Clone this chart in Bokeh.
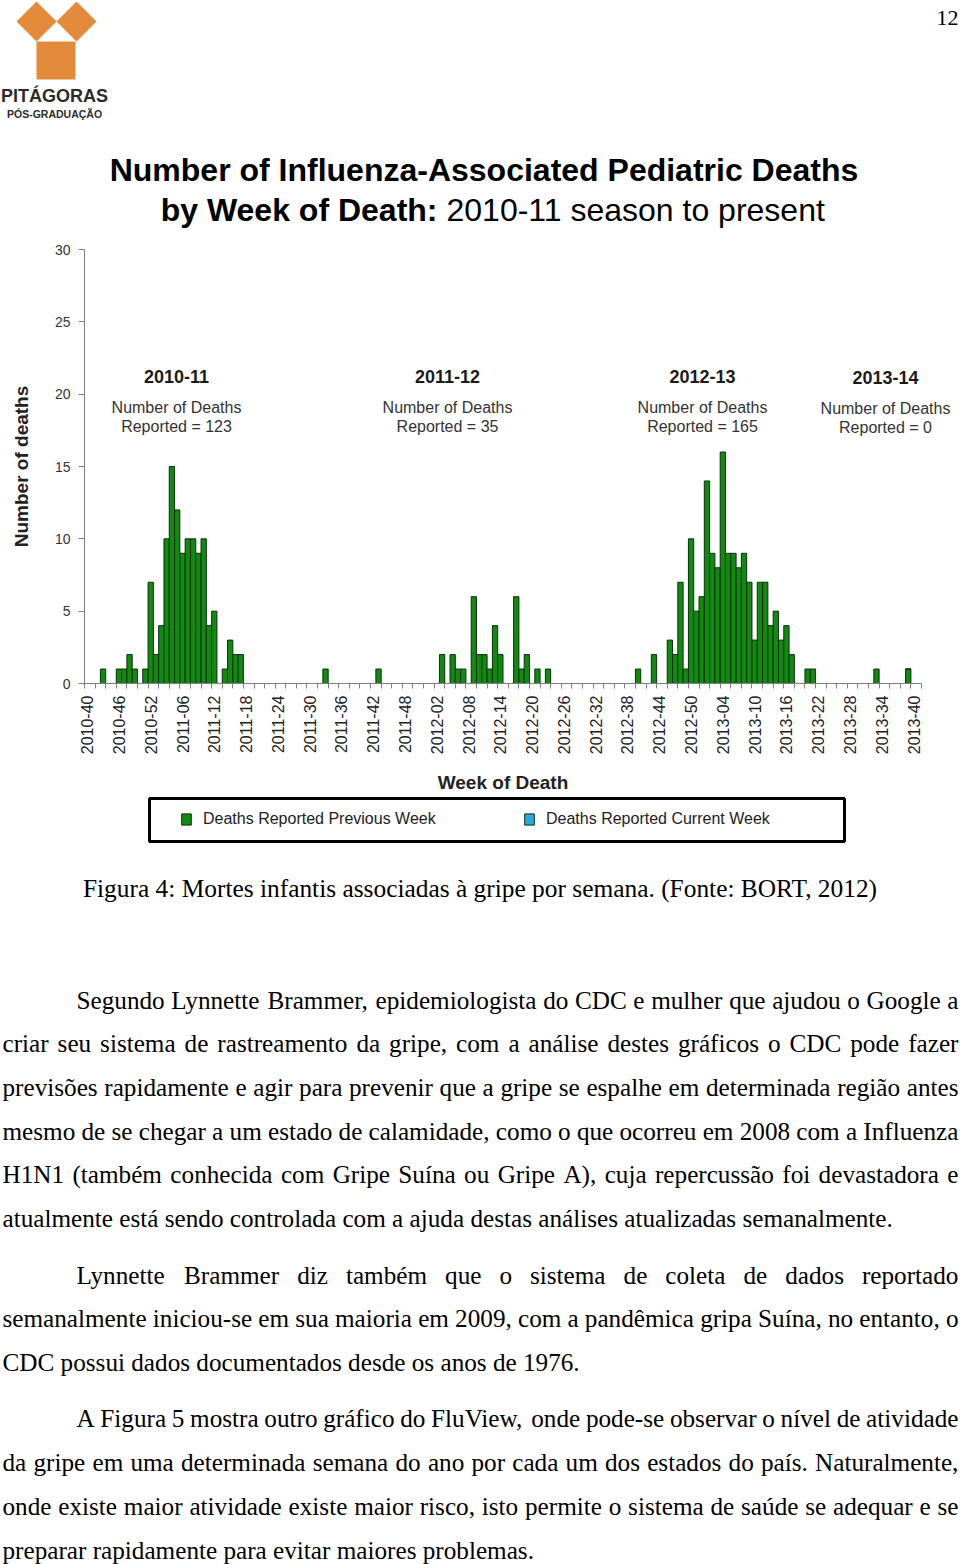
import unicodedata
from bokeh.plotting import figure
from bokeh.models import (Range1d, FixedTicker, Label, Legend, LegendItem,
                          PolyAnnotation, ColumnDataSource)
from bokeh.embed import file_html
from bokeh.resources import INLINE

# ------------------------------------------------------------------ data
# week-of-death categories on the x axis (2010-40 ... 2013-41)
weeks = []
for yr, w0, w1 in [(2010, 40, 52), (2011, 1, 52), (2012, 1, 52), (2013, 1, 41)]:
    for w in range(w0, w1 + 1):
        weeks.append(f"{yr}-{w:02d}")

tick_labels = ["2010-40", "2010-46", "2010-52", "2011-06", "2011-12", "2011-18",
               "2011-24", "2011-30", "2011-36", "2011-42", "2011-48", "2012-02",
               "2012-08", "2012-14", "2012-20", "2012-26", "2012-32", "2012-38",
               "2012-44", "2012-50", "2013-04", "2013-10", "2013-16", "2013-22",
               "2013-28", "2013-34", "2013-40"]

prev_weeks = ["2010-43", "2010-46", "2010-47", "2010-48", "2010-49", "2010-51",
              "2010-52", "2011-01", "2011-02", "2011-03", "2011-04", "2011-05",
              "2011-06", "2011-07", "2011-08", "2011-09", "2011-10", "2011-11",
              "2011-12", "2011-14", "2011-15", "2011-16", "2011-17", "2011-33",
              "2011-43", "2012-03", "2012-05", "2012-06", "2012-07", "2012-09",
              "2012-10", "2012-11", "2012-12", "2012-13", "2012-14", "2012-17",
              "2012-18", "2012-19", "2012-21", "2012-23", "2012-40", "2012-43",
              "2012-46", "2012-47", "2012-48", "2012-49", "2012-50", "2012-51",
              "2012-52", "2013-01", "2013-02", "2013-03", "2013-04", "2013-05",
              "2013-06", "2013-07", "2013-08", "2013-09", "2013-10", "2013-11",
              "2013-12", "2013-13", "2013-14", "2013-15", "2013-16", "2013-17",
              "2013-20", "2013-21", "2013-33", "2013-39"]
prev_deaths = [1, 1, 1, 2, 1, 1,
               7, 2, 4, 10, 15, 12,
               9, 10, 10, 9, 10, 4,
               5, 1, 3, 2, 2, 1,
               1, 2, 2, 1, 1, 6,
               2, 2, 1, 4, 2, 6,
               1, 2, 1, 1, 1, 2,
               3, 2, 7, 1, 10, 5,
               6, 14, 9, 8, 16, 9,
               9, 8, 9, 7, 3, 7,
               7, 4, 5, 3, 4, 2,
               1, 1, 1, 1]

# deaths reported in the current week (stacked on the previous ones): none
current_weeks = ["2013-39"]
current_deaths = [0]

seasons = ["2010-11", "2011-12", "2012-13", "2013-14"]
season_totals = [123, 35, 165, 0]

y_ticks = [0, 5, 10, 15, 20, 25, 30]

# ------------------------------------------------------------------ layout / styles
W, H = 960, 1564
AX_LEFT, AX_RIGHT = 84, 921        # page px of the category axis ends
AX_TOP, AX_BOTTOM = 249, 683       # page px of y = 30 and y = 0
n = len(weeks)
PXW = (AX_RIGHT - AX_LEFT) / n
PXU = (AX_BOTTOM - AX_TOP) / 30.0
x_start = -0.5 - AX_LEFT / PXW
x_end = -0.5 + (W - AX_LEFT) / PXW
y_end = AX_BOTTOM / PXU
y_start = -(H - AX_BOTTOM) / PXU

GREEN = "#128a12"
BAR_LINE = "#0c300c"
BLUE = "#2ba8e0"
ORANGE = "#e38a3b"
SANS = "Liberation Sans"
SERIF = "Liberation Serif"


def lab(px, py, text, size, font=SANS, style="normal", align="center",
        color="#1a1a1a", baseline="middle"):
    return Label(x=px, y=H - py, x_units="screen", y_units="screen",
                 text=text, text_font=font, text_font_size=f"{size}px",
                 text_font_style=style, text_align=align,
                 text_baseline=baseline, text_color=color)


p = figure(width=W, height=H, x_range=Range1d(x_start, x_end),
           y_range=Range1d(y_start, y_end), output_backend="svg",
           toolbar_location=None, title=None, min_border=0,
           min_border_left=0, min_border_right=0,
           min_border_top=0, min_border_bottom=0)
p.outline_line_color = None
p.xgrid.visible = False
p.ygrid.visible = False
p.background_fill_color = "white"
p.border_fill_color = "white"

src_prev = ColumnDataSource(dict(x=[weeks.index(w) for w in prev_weeks],
                                 top=prev_deaths))
cur_base = [prev_deaths[prev_weeks.index(w)] if w in prev_weeks else 0
            for w in current_weeks]
src_cur = ColumnDataSource(dict(x=[weeks.index(w) for w in current_weeks],
                                bottom=cur_base,
                                top=[b + c for b, c in zip(cur_base, current_deaths)]))
r_prev = p.vbar(x="x", top="top", width=1, source=src_prev,
                fill_color=GREEN, line_color=BAR_LINE, line_width=1)
r_cur = p.vbar(x="x", bottom="bottom", top="top", width=1, source=src_cur,
               fill_color=BLUE, line_color=BAR_LINE, line_width=1)

# x axis (drawn at y = 0)
xa = p.xaxis[0]
xa.fixed_location = 0
xa.bounds = (-0.5, n - 0.5)
major = [weeks.index(t) for t in tick_labels]
minor = [i - 0.5 for i in range(0, n + 1, 2)]
xa.ticker = FixedTicker(ticks=major, minor_ticks=minor)
xa.major_label_overrides = {weeks.index(t): t for t in tick_labels}
xa.major_label_orientation = 3.141592653589793 / 2
xa.major_tick_line_color = None
xa.major_tick_out = 0
xa.major_tick_in = 0
xa.minor_tick_out = 5
xa.minor_tick_in = 0
xa.minor_tick_line_color = "#808080"
xa.axis_line_color = "#808080"
xa.major_label_standoff = 7
xa.major_label_text_font = SANS
xa.major_label_text_font_size = "16px"
xa.major_label_text_color = "#222222"
xa.axis_label = "Week of Death"
xa.axis_label_text_font = SANS
xa.axis_label_text_font_size = "19px"
xa.axis_label_text_font_style = "bold"
xa.axis_label_text_color = "#222222"
xa.axis_label_standoff = 15

# y axis (drawn at the left edge of the first week)
ya = p.yaxis[0]
ya.fixed_location = -0.5
ya.bounds = (0, 30)
ya.ticker = FixedTicker(ticks=y_ticks)
ya.minor_tick_line_color = None
ya.major_tick_out = 6
ya.major_tick_in = 0
ya.major_tick_line_color = "#808080"
ya.axis_line_color = "#808080"
ya.major_label_standoff = 8
ya.major_label_text_font = SANS
ya.major_label_text_font_size = "14px"
ya.major_label_text_color = "#333333"
ya.axis_label = "Number of deaths"
ya.axis_label_text_font = SANS
ya.axis_label_text_font_size = "19px"
ya.axis_label_text_font_style = "bold"
ya.axis_label_text_color = "#222222"
ya.axis_label_standoff = 20

# legend with framed box
box_l, box_r, box_t, box_b = 149, 844, 798, 841
p.add_layout(PolyAnnotation(xs=[box_l, box_r, box_r, box_l],
                            ys=[H - box_t, H - box_t, H - box_b, H - box_b],
                            xs_units="screen", ys_units="screen",
                            fill_alpha=0, line_color="black", line_alpha=1,
                            line_width=3))
legend = Legend(items=[LegendItem(label="Deaths Reported Previous Week", renderers=[r_prev]),
                       LegendItem(label="Deaths Reported Current Week", renderers=[r_cur])],
                orientation="horizontal", location=(180, H - 829),
                padding=0, margin=0, spacing=80, label_standoff=11,
                glyph_width=12, glyph_height=14, label_width=240, label_height=20,
                border_line_alpha=0, background_fill_alpha=0,
                label_text_font=SANS, label_text_font_size="16px",
                label_text_color="#222222")
p.add_layout(legend)

# title
p.add_layout(lab(483.5, 169, "Number of Influenza-Associated Pediatric Deaths", 32,
                 style="bold", color="black"))
p.add_layout(lab(437, 209, "by Week of Death:", 32, style="bold", align="right",
                 color="black"))
p.add_layout(lab(446, 209, "2010-11 season to present", 32, align="left",
                 color="black"))

# season annotations
season_x = [176, 447, 702, 885]
season_dy = [0, 0, 0, 1]
for name, tot, cx, dy in zip(seasons, season_totals, season_x, season_dy):
    p.add_layout(lab(cx, 376 + dy, name, 18, style="bold"))
    p.add_layout(lab(cx, 407 + dy, "Number of Deaths", 16, color="#333333"))
    p.add_layout(lab(cx, 426 + dy, f"Reported = {tot}", 16, color="#333333"))

# logo
for xs, ys in [([16, 36, 56, 36], [21, 1, 21, 41]),
               ([56, 76, 96, 76], [21, 1, 21, 41]),
               ([36, 75, 75, 36], [41, 41, 79, 79])]:
    p.add_layout(PolyAnnotation(xs=xs, ys=[H - v for v in ys],
                                xs_units="screen", ys_units="screen",
                                fill_color=ORANGE, fill_alpha=1, line_alpha=0))
p.add_layout(lab(54, 95, "PITÁGORAS", 18, style="bold", color="#2b2b2b"))
p.add_layout(lab(54, 113, "PÓS-GRADUAÇÃO", 10.5, style="bold", color="#2b2b2b"))

# page number and caption
p.add_layout(lab(958, 17, "12", 22, font=SERIF, align="right", color="black"))
FS = 25.2
p.add_layout(lab(479.5, 887,
                 "Figura 4: Mortes infantis associadas à gripe por semana. (Fonte: BORT, 2012)",
                 25.4, font=SERIF, color="black"))

# body text (justified)
TW = {' ': 250, ',': 250, '.': 250, '(': 333, ')': 333, '-': 333, ':': 278,
      'A': 722, 'B': 667, 'C': 667, 'D': 722, 'E': 611, 'F': 556, 'G': 722,
      'H': 722, 'I': 333, 'J': 389, 'K': 722, 'L': 611, 'M': 889, 'N': 722,
      'O': 722, 'P': 556, 'Q': 722, 'R': 667, 'S': 556, 'T': 611, 'U': 722,
      'V': 722, 'W': 944, 'X': 722, 'Y': 722, 'Z': 611,
      'a': 444, 'b': 500, 'c': 444, 'd': 500, 'e': 444, 'f': 333, 'g': 500,
      'h': 500, 'i': 278, 'j': 278, 'k': 500, 'l': 278, 'm': 778, 'n': 500,
      'o': 500, 'p': 500, 'q': 500, 'r': 333, 's': 389, 't': 278, 'u': 500,
      'v': 500, 'w': 722, 'x': 500, 'y': 500, 'z': 444}


def tw(s):
    tot = 0
    for c in s:
        b = unicodedata.normalize("NFD", c)[0]
        tot += TW.get(b, 500)
    return tot * FS / 1000.0


body = [
    (1000, 76, True, "Segundo Lynnette Brammer, epidemiologista do CDC e mulher que ajudou o Google a"),
    (1043, 2, True, "criar seu sistema de rastreamento da gripe, com a análise destes gráficos o CDC pode fazer"),
    (1087, 2, True, "previsões rapidamente e agir para prevenir que a gripe se espalhe em determinada região antes"),
    (1131, 2, True, "mesmo de se chegar a um estado de calamidade, como o que ocorreu em 2008 com a Influenza"),
    (1174, 2, True, "H1N1 (também conhecida com Gripe Suína ou Gripe A), cuja repercussão foi devastadora e"),
    (1218, 2, False, "atualmente está sendo controlada com a ajuda destas análises atualizadas semanalmente."),
    (1275, 76, True, "Lynnette Brammer diz também que o sistema de coleta de dados reportado"),
    (1318, 2, True, "semanalmente iniciou-se em sua maioria em 2009, com a pandêmica gripa Suína, no entanto, o"),
    (1362, 2, False, "CDC possui dados documentados desde os anos de 1976."),
    (1418, 76, True, "A Figura 5 mostra outro gráfico do FluView, onde pode-se observar o nível de atividade"),
    (1462, 2, True, "da gripe em uma determinada semana do ano por cada um dos estados do país. Naturalmente,"),
    (1506, 2, True, "onde existe maior atividade existe maior risco, isto permite o sistema de saúde se adequar e se"),
    (1550, 2, False, "preparar rapidamente para evitar maiores problemas."),
]
RIGHT = 958
for y, x0, just, text in body:
    if not just:
        p.add_layout(lab(x0, y, text, FS, font=SERIF, align="left", color="black"))
        continue
    words = text.split(" ")
    widths = [tw(w) for w in words]
    gap = (RIGHT - x0 - sum(widths)) / (len(words) - 1)
    x = x0
    for w, wd in zip(words, widths):
        p.add_layout(lab(x, y, w, FS, font=SERIF, align="left", color="black"))
        x += wd + gap

open("out.html", "w").write(file_html(p, INLINE))
